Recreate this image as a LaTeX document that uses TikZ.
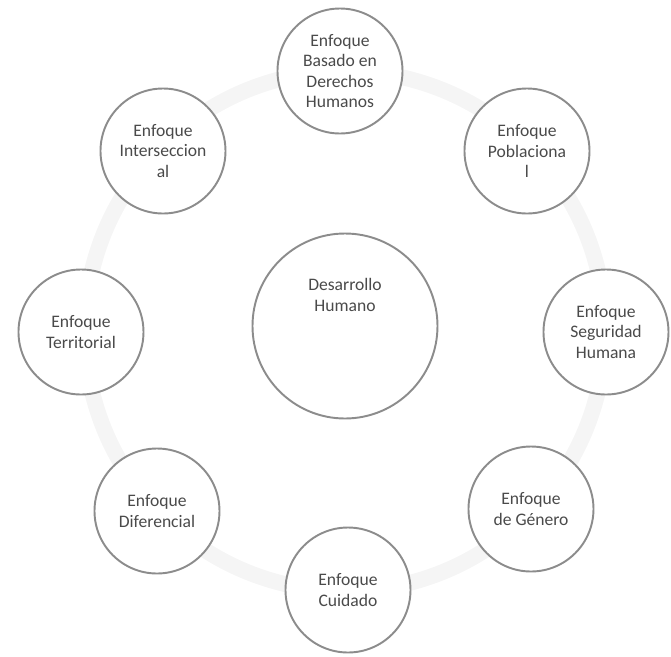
\documentclass[tikz,border=0pt]{standalone}
\usepackage{fontspec}
\setmainfont{Carlito}
\usepackage{tikz}
\usetikzlibrary{positioning}
\definecolor{ink}{HTML}{4A4A4A}
\definecolor{rim}{HTML}{8C8C8C}
\definecolor{haze}{HTML}{F5F5F5}

\begin{document}
\begin{tikzpicture}[
  font=\fontsize{10}{11.5}\selectfont,
  enf/.style={circle,draw=rim,line width=1.1pt,fill=white,minimum size=2.5cm,
              align=center,text=ink,inner sep=1pt},
  hub/.style={circle,draw=rim,line width=1.1pt,fill=white,minimum size=3.7cm},
  txt/.style={align=center,text=ink}]
  \def\R{5.2}
  \useasboundingbox (-6.9,-6.6) rectangle (6.52,6.52);
  % faint ring behind the circles
  \draw[haze,line width=9pt] (0,-0.1) circle (\R);
  % central circle
  \node[hub] (dh) at (0,0) {};
  \node[txt] (dh-t) at ([yshift=0.62cm]dh.center) {Desarrollo\\Humano};
  % outer circles
  \node[enf] (ebdh) at (-0.1,5.1)   {Enfoque\\Basado en\\Derechos\\Humanos};
  \node[enf] (pobl) at (3.64,3.5)   {Enfoque\\Poblaciona\\l};
  \node[enf] (segu) at (5.22,-0.12) {Enfoque\\Seguridad\\Humana};
  \node[enf] (gene) at (3.72,-3.66) {Enfoque\\de Género};
  \node[enf] (cuid) at (0.06,-5.28) {Enfoque\\Cuidado};
  \node[enf] (dife) at (-3.76,-3.7) {Enfoque\\Diferencial};
  \node[enf] (terr) at (-5.28,-0.12) {Enfoque\\Territorial};
  \node[enf] (inte) at (-3.64,3.5)  {Enfoque\\Interseccion\\al};
\end{tikzpicture}
\end{document}
